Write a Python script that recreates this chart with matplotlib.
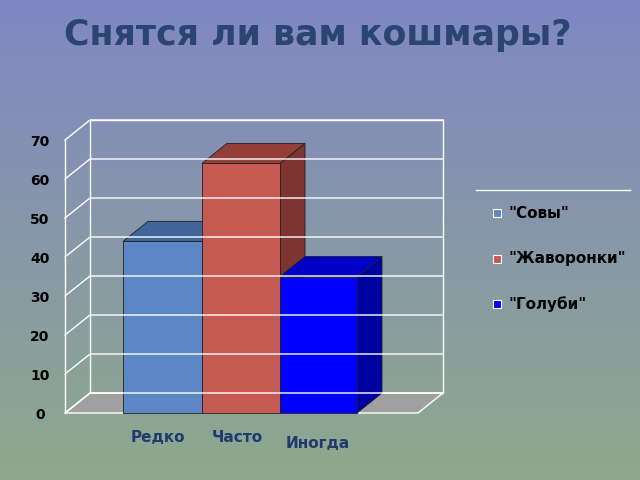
import matplotlib
matplotlib.use("Agg")
import matplotlib.pyplot as plt
import numpy as np
from matplotlib.patches import Polygon, Rectangle

categories = ["Редко", "Часто", "Иногда"]
series = ['"Совы"', '"Жаворонки"', '"Голуби"']
values = [44, 64, 35]
yticks = [0, 10, 20, 30, 40, 50, 60, 70]
front = ["#5b87c5", "#c45a52", "#0000ff"]
tops = ["#3f6696", "#943e38", "#0000c8"]
sides = ["#3a5e8c", "#7e3430", "#0000a0"]

fig = plt.figure(figsize=(6.4, 4.8), dpi=100)
bg = fig.add_axes([0, 0, 1, 1])
grad = np.linspace(0, 1, 256)[:, None]
c1 = np.array([0x80, 0x87, 0xc4]) / 255
c2 = np.array([0x8e, 0xa9, 0x8c]) / 255
img = c1[None, None, :] * (1 - grad[..., None]) + c2[None, None, :] * grad[..., None]
bg.imshow(img, aspect="auto", extent=[0, 640, 480, 0])
ax = bg
ax.set_xlim(0, 640); ax.set_ylim(480, 0); ax.axis("off")

y0, y70 = 413, 140
def Y(v): return y0 - (y0 - y70) * v / 70
dx, dy = 25, -20
xl, xr = 65, 418
lc = "white"
ax.add_patch(Polygon([(xl+dx, Y(0)+dy), (xr+dx, Y(0)+dy), (xr+dx, Y(70)+dy), (xl+dx, Y(70)+dy)],
                     closed=True, fill=False, ec=lc, lw=1))
ax.add_patch(Polygon([(xl, Y(0)), (xr, Y(0)), (xr+dx, Y(0)+dy), (xl+dx, Y(0)+dy)],
                     closed=True, fc="#a0a0a0", ec=lc, lw=1))
for t in yticks:
    ax.plot([xl, xl+dx, xr+dx], [Y(t), Y(t)+dy, Y(t)+dy], color=lc, lw=1)
    ax.text(40, Y(t)+2, str(t), ha="center", va="center", fontsize=10, fontweight="bold", color="black")
ax.plot([xl, xl], [Y(0), Y(70)], color=lc, lw=1)

bx = [123, 202, 280]
w = [79, 78, 77]
ek = dict(ec="#202020", lw=0.6)
for i, v in enumerate(values):
    x = bx[i]; x2 = x + w[i]; yt = Y(v); yb = Y(0)
    ax.add_patch(Polygon([(x2, yb), (x2+dx, yb+dy), (x2+dx, yt+dy), (x2, yt)], fc=sides[i], **ek))
    ax.add_patch(Polygon([(x, yt), (x2, yt), (x2+dx, yt+dy), (x+dx, yt+dy)], fc=tops[i], **ek))
    ax.add_patch(Rectangle((x, yt), w[i], yb-yt, fc=front[i], **ek))

lab_y = [437, 437, 443]
lab_x = [158, 237, 318]
for i, c in enumerate(categories):
    ax.text(lab_x[i], lab_y[i], c, ha="center", va="center", fontsize=11, fontweight="bold", color="#1f3a6e")

ax.plot([476, 630], [190, 190], color="white", lw=1)
ly = [213, 259, 304]
for i, s in enumerate(series):
    ax.add_patch(Rectangle((493, ly[i]-4), 8, 8, fc=front[i], ec="white", lw=0.8))
    ax.text(508, ly[i], s, ha="left", va="center", fontsize=11, fontweight="bold", color="black")

ax.text(318, 35, "Снятся ли вам кошмары?", ha="center", va="center", fontsize=25,
        fontweight="bold", color="#2a4670")
fig.savefig("out.png", dpi=100)
